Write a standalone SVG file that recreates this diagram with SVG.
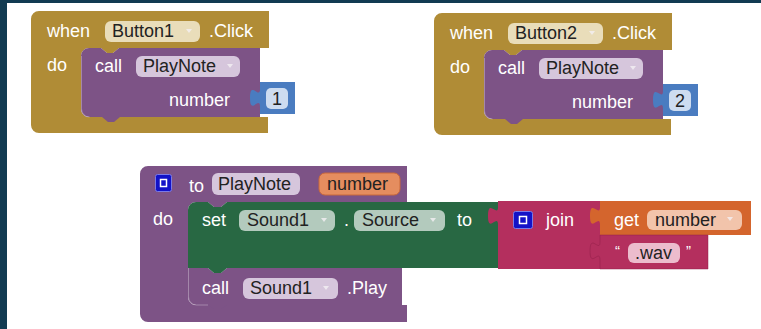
<svg xmlns="http://www.w3.org/2000/svg" width="761" height="329" viewBox="0 0 761 329">
  <style>
    text { font-family: "Liberation Sans", Arial, sans-serif; font-size: 18px; }
    .lbl { fill: #ffffff; }
    .fld { fill: #222222; }
    .ctrl { fill: #b08c36; }
    .proc { fill: #7d5386; }
    .comp { fill: #286843; }
    .txt { fill: #b42f5e; }
    .var { fill: #d4652d; }
    .math { fill: #4a7cc0; }
    .f-gold { fill: #e9ddba; }
    .f-proc { fill: #d6c6dc; }
    .f-comp { fill: #b3cabd; }
    .f-txt { fill: #ecbccd; }
    .f-var { fill: #f2c4ab; }
    .f-math { fill: #cddcf0; }
    .arrow { fill: #f4f0f4; opacity: 0.8; }
    .hl { fill: none; stroke: #ffffff; stroke-opacity: 0.3; stroke-width: 1; }
    .mut { fill: #1212c8; stroke: #7a7ae6; stroke-width: 1; }
    .mut-in { fill: none; stroke: #ffffff; stroke-width: 1.5; }
  </style>
  <defs>
    <!-- event block: when ComponentX.Click do [call PlayNote number N] -->
    <g id="clickHandler">
      <path class="ctrl" d="M31,19 a8,8 0 0 1 8,-8 H269 V48 H119 l-6,5 h-6 l-6,-5 H89 a8,8 0 0 0 -8,8 V109 a8,8 0 0 0 8,8 H268 V133 H39 a8,8 0 0 1 -8,-8 Z"/>
      <text class="lbl" x="47" y="37">when</text>
      <rect class="f-gold" x="105" y="21" width="95" height="21" rx="6"/>
      <polygon class="arrow" points="186,29 192,29 189,33"/>
      <text class="lbl" x="209" y="37">.Click</text>
      <text class="lbl" x="47" y="71">do</text>
      <!-- call PlayNote -->
      <path class="proc" d="M81,56 a8,8 0 0 1 8,-8 H101 l6,5 h6 l6,-5 H260 V117 H120 l-6,5 h-6 l-6,-5 H89 a8,8 0 0 1 -8,-8 Z"/>
      <path class="hl" d="M81.5,56 V109 a8,8 0 0 0 8,8"/>
      <text class="lbl" x="95" y="72">call</text>
      <rect class="f-proc" x="136" y="56" width="104" height="21" rx="6"/>
      <text class="fld" x="143" y="72">PlayNote</text>
      <polygon class="arrow" points="227,64 233,64 230,68"/>
      <text class="lbl" x="169" y="106">number</text>
      <!-- number literal -->
      <path class="math" d="M260,82 V89 c0,11 -10,-9 -10,9 s10,-3 10,9 V114 H295 V82 Z"/>
      <rect class="f-math" x="266" y="88" width="22" height="21" rx="5"/>
    </g>
  </defs>

  <!-- frame -->
  <rect x="0" y="0" width="761" height="329" fill="#ffffff"/>
  <rect x="0" y="0" width="761" height="3" fill="#123b52"/>
  <rect x="0" y="0" width="7" height="329" fill="#123b52"/>

  <g id="button1-click">
    <use href="#clickHandler"/>
    <text class="fld" x="112" y="37">Button1</text>
    <text class="fld" x="277" y="105" text-anchor="middle">1</text>
  </g>

  <g id="button2-click" transform="translate(403,2)">
    <use href="#clickHandler"/>
    <text class="fld" x="112" y="37">Button2</text>
    <text class="fld" x="277" y="105" text-anchor="middle">2</text>
  </g>

  <g id="playnote-procedure">
    <path class="proc" d="M140,174 a8,8 0 0 1 8,-8 H407 V202 H227 l-6,5 h-7 l-6,-5 H196 a8,8 0 0 0 -8,8 V297 a8,8 0 0 0 8,8 H407 V322 H148 a8,8 0 0 1 -8,-8 Z"/>
    <rect class="mut" x="155.5" y="174.5" width="16" height="17" rx="2"/>
    <rect class="mut-in" x="160.5" y="179.5" width="6" height="7"/>
    <text class="lbl" x="189" y="192">to</text>
    <rect class="f-proc" x="212" y="173" width="88" height="22" rx="6"/>
    <text class="fld" x="218" y="190">PlayNote</text>
    <rect x="319" y="173" width="81" height="22" rx="6" fill="#e58d5f" stroke="#c9683a" stroke-width="1"/>
    <text class="fld" x="327" y="190">number</text>
    <text class="lbl" x="153" y="225">do</text>
  </g>

  <g id="call-sound1-play">
    <path class="proc" d="M188,268 H208 l6,5 h7 l6,-5 H402 V305 H227 l-6,4 h-7 l-6,-4 H196 a8,8 0 0 1 -8,-8 Z"/>
    <path class="hl" d="M188.5,268 V297 a8,8 0 0 0 8,8 H208"/>
    <text class="lbl" x="202" y="294">call</text>
    <rect class="f-proc" x="243" y="278" width="95" height="21" rx="6"/>
    <text class="fld" x="250" y="294">Sound1</text>
    <polygon class="arrow" points="323,286 329,286 326,290"/>
    <text class="lbl" x="347" y="294">.Play</text>
  </g>

  <g id="set-sound1-source">
    <path class="comp" d="M188,210 a8,8 0 0 1 8,-8 H208 l6,5 h7 l6,-5 H498 V268 H227 l-6,5 h-7 l-6,-5 H188 Z"/>
    <text class="lbl" x="202" y="226">set</text>
    <rect class="f-comp" x="239" y="210" width="96" height="21" rx="6"/>
    <text class="fld" x="247" y="226">Sound1</text>
    <polygon class="arrow" points="321,218 327,218 324,222"/>
    <text class="lbl" x="344" y="226">.</text>
    <rect class="f-comp" x="354" y="210" width="91" height="21" rx="6"/>
    <text class="fld" x="362" y="226">Source</text>
    <polygon class="arrow" points="430,218 436,218 433,222"/>
    <text class="lbl" x="457" y="226">to</text>
  </g>

  <g id="join">
    <path class="txt" d="M498,201 V207 c0,11 -10,-9 -10,9 s10,-3 10,9 V269 H600 V201 Z"/>
    <rect class="mut" x="513.5" y="211.5" width="19" height="17" rx="2"/>
    <rect class="mut-in" x="519.5" y="216.5" width="7" height="7"/>
    <text class="lbl" x="546" y="226">join</text>
  </g>

  <g id="get-number">
    <path class="var" d="M600,201 V207 c0,11 -10,-9 -10,9 s10,-3 10,9 V235 H751 V201 Z"/>
    <text class="lbl" x="614" y="226">get</text>
    <rect class="f-var" x="647" y="210" width="95" height="20" rx="6"/>
    <text class="fld" x="655" y="226">number</text>
    <polygon class="arrow" points="727,217 733,217 730,221"/>
  </g>

  <g id="text-wav">
    <path class="txt" d="M600,235 V242 c0,11 -10,-9 -10,9 s10,-3 10,9 V269 H708 V235 Z" stroke="#8f1f47" stroke-width="0.8" stroke-opacity="0.6"/>
    <text class="lbl" x="615" y="256" style="font-size:15px">“</text>
    <rect class="f-txt" x="628" y="243" width="52" height="20" rx="6"/>
    <text class="fld" x="635" y="259">.wav</text>
    <text class="lbl" x="686" y="256" style="font-size:15px">”</text>
  </g>
</svg>
